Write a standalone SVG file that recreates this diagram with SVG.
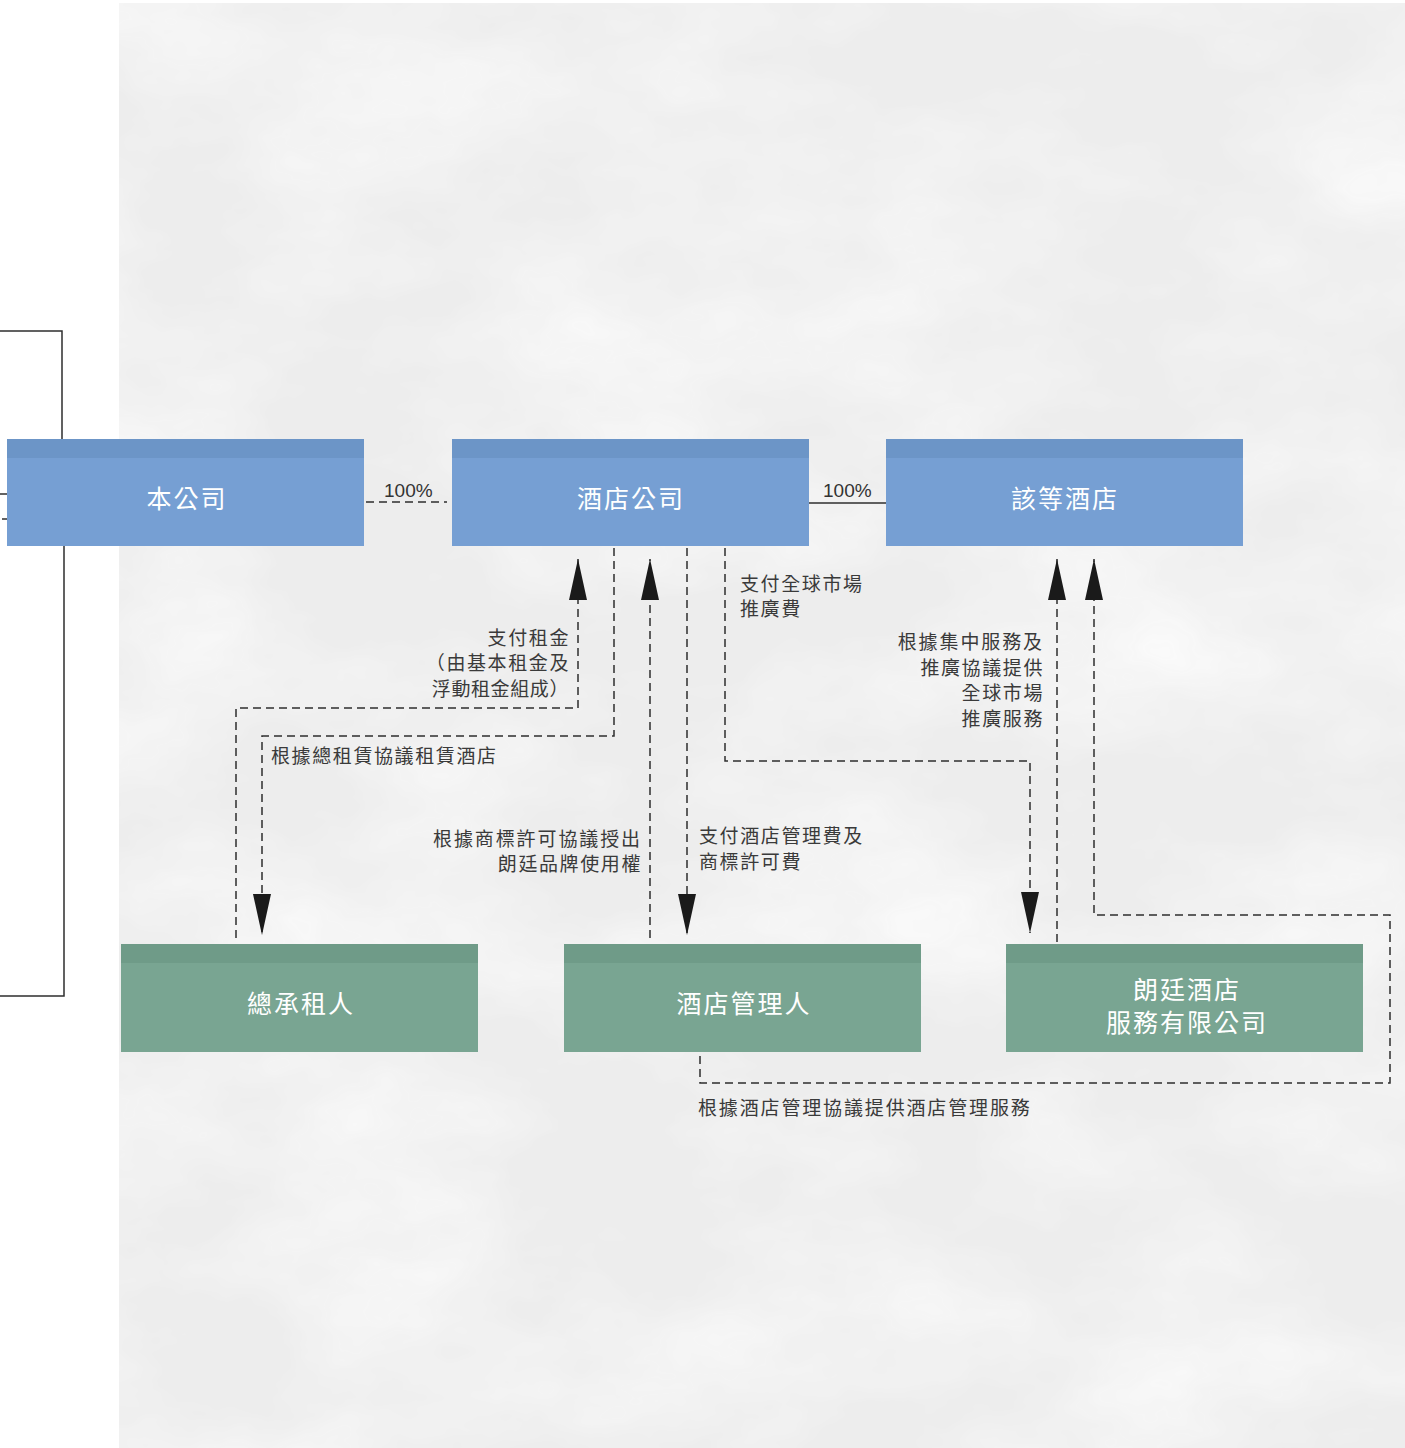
<svg xmlns="http://www.w3.org/2000/svg" width="1405" height="1448" viewBox="0 0 1405 1448">
<defs>
<style>
.bg{fill:#ffffff}
.marble{fill:#ededed}
.conn{fill:none;stroke:#2e2e2e;stroke-width:1.5}
.dash{stroke-dasharray:8 5}
.solid{fill:none;stroke:#2e2e2e;stroke-width:1.5}
.blueBody{fill:#769fd3}
.blueHead{fill:#6c95c7}
.greenBody{fill:#79a592}
.greenHead{fill:#6f9b88}
.node{font-family:"Noto Sans CJK TC","Noto Sans CJK SC",sans-serif;font-size:25px;fill:#ffffff;text-anchor:middle;letter-spacing:2px}
.lbl{font-family:"Noto Sans CJK TC","Noto Sans CJK SC",sans-serif;font-size:19px;fill:#3a3a3a;letter-spacing:1.6px}
.end{text-anchor:end}
.pct{font-family:"Liberation Sans",Arial,sans-serif;font-size:19px;fill:#333333}
</style>
<marker id="arr" viewBox="0 0 41 18" refX="41" refY="9" markerWidth="41" markerHeight="18" markerUnits="userSpaceOnUse" orient="auto">
<path d="M0,0 L41,9 L0,18 Z" fill="#1a1a1a"/>
</marker>
<filter id="tex" x="0" y="0" width="100%" height="100%">
<feTurbulence type="fractalNoise" baseFrequency="0.004 0.007" numOctaves="5" seed="7"/>
<feColorMatrix type="matrix" values="0 0 0 0 1  0 0 0 0 1  0 0 0 0 1  0 0 0 1.4 -0.5"/>
</filter>
</defs>

<rect class="bg" x="0" y="0" width="1405" height="1448"/>
<rect class="marble" x="119" y="3" width="1286" height="1445"/>
<rect x="119" y="3" width="1286" height="1445" fill="#ffffff" filter="url(#tex)" opacity="0.9"/>

<g id="bracket">
<path class="solid" d="M0,331 H62 V440"/>
<path class="solid" d="M64,546 V996 H0"/>
<path class="solid" d="M0,494 H8"/>
<path class="solid" d="M2,519 H8"/>
</g>

<g id="connectors">
<path class="conn dash" d="M366,502 H447"/>
<path class="solid" d="M809,503 H886"/>
<path class="conn dash" d="M236,938 V708 H578 V559" marker-end="url(#arr)"/>
<path class="conn dash" d="M614,548 V736 H262 V935" marker-end="url(#arr)"/>
<path class="conn dash" d="M650,938 V559" marker-end="url(#arr)"/>
<path class="conn dash" d="M687,548 V935" marker-end="url(#arr)"/>
<path class="conn dash" d="M725,548 V761 H1030 V933" marker-end="url(#arr)"/>
<path class="conn dash" d="M1057,942 V559" marker-end="url(#arr)"/>
<path class="conn dash" d="M700,1056 V1083 H1390 V915 H1094 V559" marker-end="url(#arr)"/>
</g>

<g id="labels">
<text class="pct" x="384" y="497">100%</text>
<text class="pct" x="823" y="497">100%</text>
<text class="lbl end" x="570" y="645">支付租金</text>
<text class="lbl end" x="570" y="670">（由基本租金及</text>
<text class="lbl end" x="569" y="696" style="letter-spacing:0.6px">浮動租金組成）</text>
<text class="lbl" x="271" y="763">根據總租賃協議租賃酒店</text>
<text class="lbl end" x="642" y="846" style="letter-spacing:1.9px">根據商標許可協議授出</text>
<text class="lbl end" x="642" y="871">朗廷品牌使用權</text>
<text class="lbl" x="699" y="843">支付酒店管理費及</text>
<text class="lbl" x="699" y="869">商標許可費</text>
<text class="lbl" x="740" y="591">支付全球市場</text>
<text class="lbl" x="740" y="616">推廣費</text>
<text class="lbl end" x="1044" y="649" style="letter-spacing:1.9px">根據集中服務及</text>
<text class="lbl end" x="1044" y="675">推廣協議提供</text>
<text class="lbl end" x="1044" y="700">全球市場</text>
<text class="lbl end" x="1044" y="726">推廣服務</text>
<text class="lbl" x="698" y="1115" style="letter-spacing:1.85px">根據酒店管理協議提供酒店管理服務</text>
</g>

<g id="node-company">
<rect class="blueBody" x="7" y="439" width="357" height="107"/>
<rect class="blueHead" x="7" y="439" width="357" height="19"/>
<text class="node" x="187" y="508">本公司</text>
</g>
<g id="node-hotelco">
<rect class="blueBody" x="452" y="439" width="357" height="107"/>
<rect class="blueHead" x="452" y="439" width="357" height="19"/>
<text class="node" x="631" y="508">酒店公司</text>
</g>
<g id="node-hotels">
<rect class="blueBody" x="886" y="439" width="357" height="107"/>
<rect class="blueHead" x="886" y="439" width="357" height="19"/>
<text class="node" x="1065" y="508">該等酒店</text>
</g>
<g id="node-lessee">
<rect class="greenBody" x="121" y="944" width="357" height="108"/>
<rect class="greenHead" x="121" y="944" width="357" height="19"/>
<text class="node" x="301" y="1013">總承租人</text>
</g>
<g id="node-manager">
<rect class="greenBody" x="564" y="944" width="357" height="108"/>
<rect class="greenHead" x="564" y="944" width="357" height="19"/>
<text class="node" x="744" y="1013">酒店管理人</text>
</g>
<g id="node-langham">
<rect class="greenBody" x="1006" y="944" width="357" height="108"/>
<rect class="greenHead" x="1006" y="944" width="357" height="19"/>
<text class="node" x="1187" y="999">朗廷酒店</text>
<text class="node" x="1187" y="1032">服務有限公司</text>
</g>
</svg>
